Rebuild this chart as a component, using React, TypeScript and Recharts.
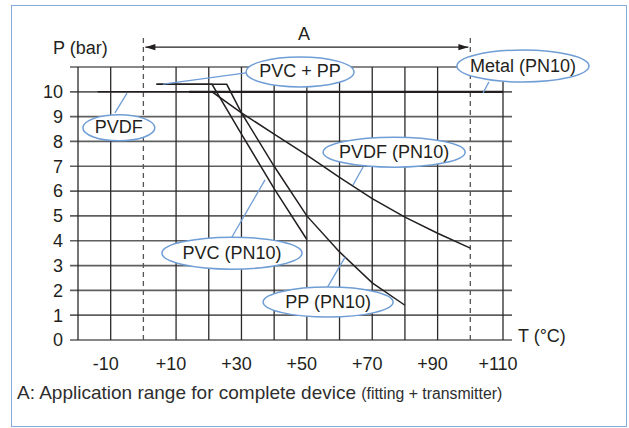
import React from 'react';
import { LineChart, Line, XAxis, YAxis, ReferenceLine, ReferenceDot } from 'recharts';

// temperature (°C) / pressure (bar) readings
const xTicks = [-10, 10, 30, 50, 70, 90, 110];
const yTicks = [0, 1, 2, 3, 4, 5, 6, 7, 8, 9, 10];
const gridT = [-20, -10, 10, 20, 30, 40, 50, 60, 70, 80, 90, 110];
const gridP = [0, 1, 2, 3, 4, 5, 6, 7, 8, 9, 10, 11];
const rangeA = [0, 100];

const metal = [
  { t: 14, p: 10 },
  { t: 110, p: 10 },
];
const pvdf = [
  { t: -14, p: 10 },
  { t: 21, p: 10 },
  { t: 30, p: 9.15 },
  { t: 40, p: 8.3 },
  { t: 50, p: 7.45 },
  { t: 60, p: 6.55 },
  { t: 70, p: 5.7 },
  { t: 80, p: 4.95 },
  { t: 90, p: 4.3 },
  { t: 100, p: 3.7 },
];
const pvc = [
  { t: 4, p: 10.3 },
  { t: 21, p: 10.3 },
  { t: 30, p: 8.3 },
  { t: 40, p: 6.1 },
  { t: 50, p: 4.05 },
];
const pp = [
  { t: 4, p: 10.3 },
  { t: 25.5, p: 10.3 },
  { t: 30, p: 9.15 },
  { t: 40, p: 7.0 },
  { t: 50, p: 5.0 },
  { t: 60, p: 3.55 },
  { t: 70, p: 2.3 },
  { t: 80, p: 1.4 },
];

const INK = '#231f20';
const BLUE = '#6f9dd5';
const FONT = '"Liberation Sans", Arial, Helvetica, sans-serif';

// callout bubbles, placed in data units; rx/ry in px
const bubbles = [
  { text: 'PVDF', t: -7.5, p: 8.55, rx: 36, ry: 13, lead: [[-8.7, 9.15], [-5.0, 9.95]] },
  { text: 'PVC + PP', t: 47.9, p: 10.8, rx: 54, ry: 15, lead: [[31.4, 10.76], [6.0, 10.31]] },
  { text: 'Metal (PN10)', t: 116.1, p: 11.04, rx: 66, ry: 16, lead: [[105.7, 10.4], [103.9, 9.95]] },
  { text: 'PVDF (PN10)', t: 76.7, p: 7.57, rx: 71, ry: 15, lead: [[67.2, 6.97], [64.1, 6.24]] },
  { text: 'PVC (PN10)', t: 27.1, p: 3.5, rx: 70, ry: 16, lead: [[27.1, 4.15], [37.2, 6.45]] },
  { text: 'PP (PN10)', t: 56.5, p: 1.53, rx: 65, ry: 15, lead: [[56.2, 2.1], [61.7, 3.34]] },
];

const bubbleShape = (text: string, rx: number, ry: number) => (props: any) => {
  const { cx, cy } = props;
  return (
    <g>
      <ellipse cx={cx} cy={cy} rx={rx} ry={ry} fill="#fff" stroke={BLUE} strokeWidth={1.5} />
      <text x={cx} y={cy + 5.5} textAnchor="middle" fontSize={18} fill={INK} fontFamily={FONT}>
        {text}
      </text>
    </g>
  );
};

const arrowHead = (dir: number) => (props: any) => {
  const { cx, cy } = props;
  const pts = `${cx},${cy} ${cx + dir * 10},${cy - 3.2} ${cx + dir * 10},${cy + 3.2}`;
  return <polygon points={pts} fill={INK} />;
};

const XTick = (props: any) => {
  const { x, y, payload } = props;
  const v = payload.value;
  return (
    <text x={x - 5} y={y} dy="0.71em" textAnchor="middle" fontSize={18} fill={INK} fontFamily={FONT}>
      {v < 0 ? `${v}` : `+${v}`}
    </text>
  );
};

const label = (F: number) => ({
  position: 'absolute' as const,
  fontSize: F,
  lineHeight: `${F}px`,
  color: INK,
  whiteSpace: 'nowrap' as const,
});

export default function App() {
  return (
    <div style={{ position: 'absolute', left: 0, top: 0, width: 629, height: 428, background: '#fff', fontFamily: FONT }}>
      <div
        style={{
          position: 'absolute',
          left: 11,
          top: 5,
          width: 616,
          height: 422,
          boxSizing: 'border-box',
          border: '1.5px solid #86aadc',
        }}
      />
      <div style={{ position: 'absolute', left: 0, top: 0 }}>
        <LineChart width={629} height={428} margin={{ top: 67, right: 126, bottom: 0, left: 0 }}>
          <XAxis
            dataKey="t"
            type="number"
            domain={[-20, 110]}
            ticks={xTicks}
            interval={0}
            axisLine={false}
            tickLine={false}
            tickMargin={11}
            height={88}
            tick={<XTick />}
            allowDataOverflow
          />
          <YAxis
            type="number"
            domain={[0, 11]}
            ticks={yTicks}
            interval={0}
            axisLine={false}
            tickLine={false}
            tickMargin={9}
            width={78}
            tick={{ fontSize: 18, fill: INK, fontFamily: FONT }}
            allowDataOverflow
          />
          {gridP.map((p) => (
            <ReferenceLine
              key={`h${p}`}
              segment={[{ x: -22.45, y: p }, { x: 112.75, y: p }]}
              stroke="#5f5f5f"
              strokeWidth={1.7}
              ifOverflow="visible"
            />
          ))}
          {gridT.map((t) => (
            <ReferenceLine
              key={`v${t}`}
              segment={[{ x: t, y: 0 }, { x: t, y: 11 }]}
              stroke="#2a2a2a"
              strokeWidth={1.3}
              ifOverflow="visible"
            />
          ))}
          {rangeA.map((t) => (
            <ReferenceLine
              key={`d${t}`}
              segment={[{ x: t, y: 0 }, { x: t, y: 12.25 }]}
              stroke="#555"
              strokeWidth={1.3}
              strokeDasharray="5 4"
              ifOverflow="visible"
            />
          ))}
          <ReferenceLine
            segment={[{ x: rangeA[0] + 0.6, y: 11.8 }, { x: rangeA[1] - 0.6, y: 11.8 }]}
            stroke={INK}
            strokeWidth={1.2}
            ifOverflow="visible"
          />
          <ReferenceDot x={rangeA[0] + 0.6} y={11.8} r={0} ifOverflow="visible" shape={arrowHead(1)} />
          <ReferenceDot x={rangeA[1] - 0.6} y={11.8} r={0} ifOverflow="visible" shape={arrowHead(-1)} />

          <Line data={metal} dataKey="p" type="linear" stroke={INK} strokeWidth={2.2} dot={false} isAnimationActive={false} />
          <Line data={pvdf} dataKey="p" type="linear" stroke={INK} strokeWidth={1.5} dot={false} isAnimationActive={false} />
          <Line data={pvc} dataKey="p" type="linear" stroke={INK} strokeWidth={1.5} dot={false} isAnimationActive={false} />
          <Line data={pp} dataKey="p" type="linear" stroke={INK} strokeWidth={1.5} dot={false} isAnimationActive={false} />

          {bubbles.map((b) => (
            <ReferenceLine
              key={`l${b.text}`}
              segment={[{ x: b.lead[0][0], y: b.lead[0][1] }, { x: b.lead[1][0], y: b.lead[1][1] }]}
              stroke={BLUE}
              strokeWidth={1.3}
              ifOverflow="visible"
            />
          ))}
          {bubbles.map((b) => (
            <ReferenceDot
              key={`b${b.text}`}
              x={b.t}
              y={b.p}
              r={0}
              ifOverflow="visible"
              shape={bubbleShape(b.text, b.rx, b.ry)}
            />
          ))}
        </LineChart>
      </div>
      <div style={{ ...label(18), left: 53, top: 38.7 }}>P (bar)</div>
      <div style={{ ...label(18), left: 304, top: 24.7, transform: 'translateX(-50%)' }}>A</div>
      <div style={{ ...label(18), left: 518, top: 326.5 }}>T (°C)</div>
      <div style={{ ...label(19), left: 17, top: 383.2, color: '#2e2e2e' }}>
        A: Application range for complete device <span style={{ fontSize: 15.8 }}>(fitting + transmitter)</span>
      </div>
    </div>
  );
}
